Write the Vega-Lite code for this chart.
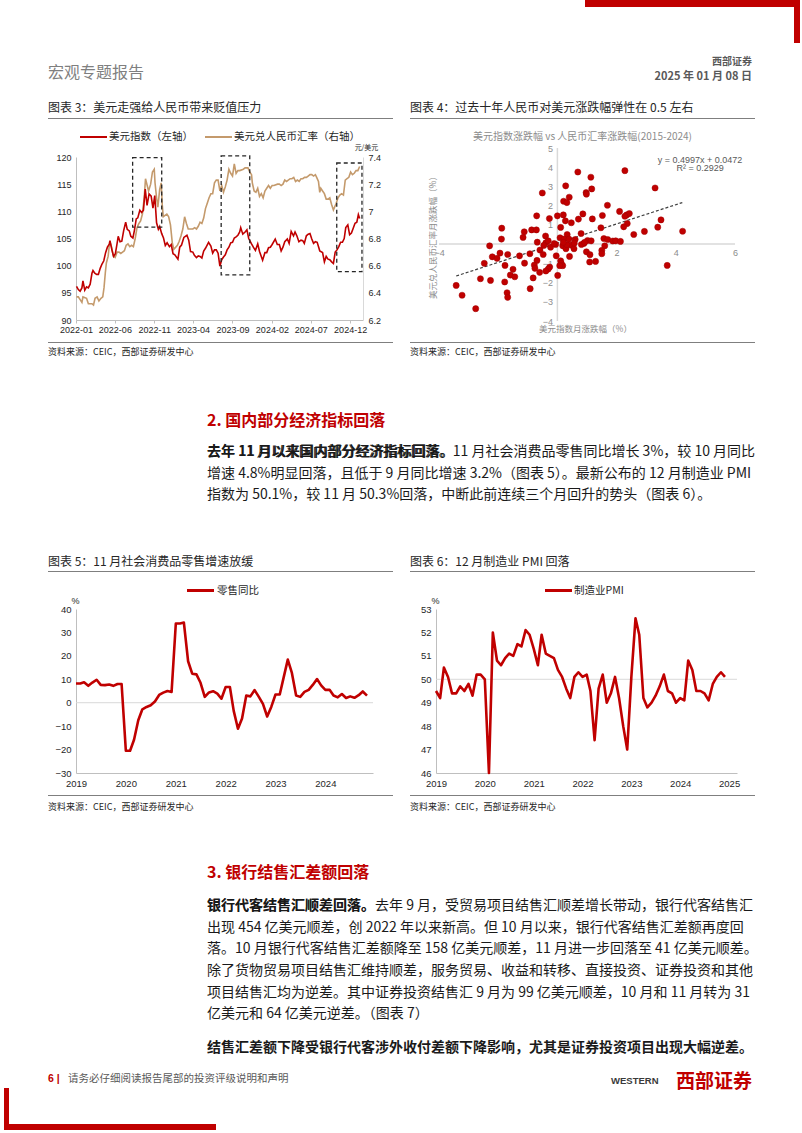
{
"$schema":"https://vega.github.io/schema/vega-lite/v6.json",
"padding":0,
"background":"white",
"autosize":{"type":"pad"},
"config":{"view":{"stroke":null},"font":"Noto Sans CJK SC","concat":{"spacing":0},"axis":{"labelOverlap":false}},
"bounds":"flush",
"spacing":0,
"vconcat":[
{"width":802,"height":7,"data":{"values":[{}]},"mark":{"type":"rect","color":"#c00000"},"encoding":{"x":{"datum":0,"scale":{"domain":[0,1],"range":[585,800]},"axis":null},"x2":{"datum":1}}},
{"width":802,"height":36,"data":{"values":[{}]},"mark":{"type":"rect","color":"#c00000"},"encoding":{"x":{"datum":0,"scale":{"domain":[0,1],"range":[794,800]},"axis":null},"x2":{"datum":1}}},
{"width":802,"height":12,"data":{"values":[]},"mark":"point"},
{"width":802,"height":13,"data":{"values":[{"t":"西部证券"}]},"mark":{"type":"text","align":"right","baseline":"middle","fontSize":10,"fontWeight":"bold","color":"#595959"},"encoding":{"text":{"field":"t"},"x":{"datum":1,"scale":{"domain":[0,1],"range":[0,752]},"axis":null}}},
{"width":802,"height":18,
 "layer":[
  {"data":{"values":[{"t":"宏观专题报告"}]},"mark":{"type":"text","align":"left","baseline":"middle","fontSize":16,"color":"#7f7f7f","dy":-4},"encoding":{"text":{"field":"t"},"x":{"datum":0,"scale":{"domain":[0,1],"range":[48,400]},"axis":null}}},
  {"data":{"values":[{"t":"2025 年 01 月 08 日"}]},"mark":{"type":"text","align":"right","baseline":"middle","fontSize":11,"fontWeight":"bold","color":"#595959"},"encoding":{"text":{"field":"t"},"x":{"datum":1,"scale":{"domain":[0,1],"range":[400,752]},"axis":null}}}
 ],"resolve":{"scale":{"x":"independent"}}},
{"width":802,"height":11,"data":{"values":[]},"mark":"point"},
{"width":802,"height":22,
 "layer":[
  {"data":{"values":[{"t":"图表 3：美元走强给人民币带来贬值压力"}]},
   "layer":[
    {"mark":{"type":"text","align":"left","baseline":"middle","fontSize":12,"color":"#262626"},"encoding":{"text":{"field":"t"},"x":{"datum":0,"scale":{"domain":[0,1],"range":[48,393]},"axis":null}}},
    {"mark":{"type":"rule","color":"#7f7f7f","strokeWidth":1},"encoding":{"x":{"datum":0},"x2":{"datum":1},"y":{"datum":0,"scale":{"domain":[0,1],"range":[21.5,0]},"axis":null}}}
   ]},
  {"data":{"values":[{"t":"图表 4：过去十年人民币对美元涨跌幅弹性在 0.5 左右"}]},
   "layer":[
    {"mark":{"type":"text","align":"left","baseline":"middle","fontSize":12,"color":"#262626"},"encoding":{"text":{"field":"t"},"x":{"datum":0,"scale":{"domain":[0,1],"range":[410,755]},"axis":null}}},
    {"mark":{"type":"rule","color":"#7f7f7f","strokeWidth":1},"encoding":{"x":{"datum":0},"x2":{"datum":1},"y":{"datum":0,"scale":{"domain":[0,1],"range":[21.5,0]},"axis":null}}}
   ]}
 ],"resolve":{"scale":{"x":"independent","y":"independent"}}},
{"width":802,"height":9,"data":{"values":[]},"mark":"point"},
{"width":802,"height":18,
 "layer":[
  {"data":{"values":[{"t":"美元指数（左轴）"}]},
   "layer":[
    {"mark":{"type":"rule","color":"#c00000","strokeWidth":2},"encoding":{"x":{"datum":0,"scale":{"domain":[0,1],"range":[80,107]},"axis":null},"x2":{"datum":1}}},
    {"mark":{"type":"text","align":"left","baseline":"middle","fontSize":10.5,"color":"#262626","dx":2},"encoding":{"text":{"field":"t"},"x":{"datum":1}}}
   ]},
  {"data":{"values":[{"t":"美元兑人民币汇率（右轴）"}]},
   "layer":[
    {"mark":{"type":"rule","color":"#c49a6c","strokeWidth":2},"encoding":{"x":{"datum":0,"scale":{"domain":[0,1],"range":[205,232]},"axis":null},"x2":{"datum":1}}},
    {"mark":{"type":"text","align":"left","baseline":"middle","fontSize":10.5,"color":"#262626","dx":2},"encoding":{"text":{"field":"t"},"x":{"datum":1}}}
   ]},
  {"data":{"values":[{"t":"美元指数涨跌幅 vs 人民币汇率涨跌幅(2015-2024)"}]},"mark":{"type":"text","align":"center","baseline":"middle","fontSize":10,"color":"#8c8c8c"},"encoding":{"text":{"field":"t"},"x":{"datum":0.5,"scale":{"domain":[0,1],"range":[439,726]},"axis":null}}}
 ],"resolve":{"scale":{"x":"independent"}}},
{"width":802,"height":196,
 "layer":[
  {"layer":[
    {"data":{"values":[
{"d":"2022-01-03","v":6.37},{"d":"2022-01-10","v":6.37},{"d":"2022-01-17","v":6.35},{"d":"2022-01-24","v":6.33},{"d":"2022-01-28","v":6.37},{"d":"2022-02-11","v":6.36},{"d":"2022-02-18","v":6.32},{"d":"2022-02-25","v":6.32},{"d":"2022-03-04","v":6.32},{"d":"2022-03-10","v":6.31},{"d":"2022-03-16","v":6.36},{"d":"2022-03-24","v":6.37},{"d":"2022-03-31","v":6.34},{"d":"2022-04-08","v":6.36},{"d":"2022-04-15","v":6.37},{"d":"2022-04-20","v":6.44},{"d":"2022-04-25","v":6.55},{"d":"2022-04-29","v":6.62},{"d":"2022-05-06","v":6.67},{"d":"2022-05-12","v":6.78},{"d":"2022-05-19","v":6.74},{"d":"2022-05-26","v":6.67},{"d":"2022-06-02","v":6.66},{"d":"2022-06-10","v":6.70},{"d":"2022-06-17","v":6.70},{"d":"2022-06-24","v":6.69},{"d":"2022-07-01","v":6.70},{"d":"2022-07-08","v":6.71},{"d":"2022-07-15","v":6.75},{"d":"2022-07-22","v":6.76},{"d":"2022-07-29","v":6.74},{"d":"2022-08-05","v":6.75},{"d":"2022-08-12","v":6.74},{"d":"2022-08-19","v":6.80},{"d":"2022-08-26","v":6.88},{"d":"2022-09-02","v":6.91},{"d":"2022-09-09","v":6.93},{"d":"2022-09-16","v":6.98},{"d":"2022-09-23","v":7.10},{"d":"2022-09-28","v":7.24},{"d":"2022-10-10","v":7.15},{"d":"2022-10-18","v":7.20},{"d":"2022-10-25","v":7.29},{"d":"2022-11-01","v":7.31},{"d":"2022-11-04","v":7.21},{"d":"2022-11-10","v":7.10},{"d":"2022-11-15","v":7.03},{"d":"2022-11-22","v":7.16},{"d":"2022-11-28","v":7.21},{"d":"2022-12-02","v":7.05},{"d":"2022-12-06","v":6.96},{"d":"2022-12-13","v":6.97},{"d":"2022-12-20","v":6.98},{"d":"2022-12-27","v":6.96},{"d":"2023-01-03","v":6.90},{"d":"2023-01-10","v":6.77},{"d":"2023-01-16","v":6.72},{"d":"2023-01-30","v":6.75},{"d":"2023-02-06","v":6.78},{"d":"2023-02-13","v":6.82},{"d":"2023-02-20","v":6.87},{"d":"2023-02-27","v":6.96},{"d":"2023-03-06","v":6.91},{"d":"2023-03-13","v":6.87},{"d":"2023-03-20","v":6.87},{"d":"2023-03-31","v":6.87},{"d":"2023-04-07","v":6.88},{"d":"2023-04-14","v":6.87},{"d":"2023-04-21","v":6.89},{"d":"2023-04-28","v":6.92},{"d":"2023-05-05","v":6.91},{"d":"2023-05-12","v":6.95},{"d":"2023-05-19","v":7.02},{"d":"2023-05-26","v":7.06},{"d":"2023-06-02","v":7.10},{"d":"2023-06-09","v":7.13},{"d":"2023-06-16","v":7.13},{"d":"2023-06-23","v":7.21},{"d":"2023-06-30","v":7.23},{"d":"2023-07-07","v":7.23},{"d":"2023-07-14","v":7.15},{"d":"2023-07-21","v":7.19},{"d":"2023-07-28","v":7.14},{"d":"2023-08-04","v":7.18},{"d":"2023-08-11","v":7.23},{"d":"2023-08-18","v":7.31},{"d":"2023-08-25","v":7.28},{"d":"2023-09-01","v":7.26},{"d":"2023-09-08","v":7.35},{"d":"2023-09-15","v":7.28},{"d":"2023-09-22","v":7.30},{"d":"2023-09-29","v":7.30},{"d":"2023-10-13","v":7.31},{"d":"2023-10-20","v":7.32},{"d":"2023-10-31","v":7.32},{"d":"2023-11-07","v":7.29},{"d":"2023-11-14","v":7.27},{"d":"2023-11-17","v":7.21},{"d":"2023-11-24","v":7.15},{"d":"2023-12-01","v":7.14},{"d":"2023-12-08","v":7.17},{"d":"2023-12-15","v":7.11},{"d":"2023-12-22","v":7.13},{"d":"2023-12-29","v":7.10},{"d":"2024-01-05","v":7.15},{"d":"2024-01-12","v":7.17},{"d":"2024-01-19","v":7.19},{"d":"2024-01-26","v":7.17},{"d":"2024-02-02","v":7.19},{"d":"2024-02-09","v":7.19},{"d":"2024-02-23","v":7.20},{"d":"2024-03-01","v":7.20},{"d":"2024-03-08","v":7.19},{"d":"2024-03-15","v":7.20},{"d":"2024-03-22","v":7.23},{"d":"2024-03-29","v":7.22},{"d":"2024-04-12","v":7.24},{"d":"2024-04-19","v":7.24},{"d":"2024-04-26","v":7.25},{"d":"2024-05-03","v":7.22},{"d":"2024-05-10","v":7.23},{"d":"2024-05-17","v":7.22},{"d":"2024-05-24","v":7.24},{"d":"2024-05-31","v":7.24},{"d":"2024-06-07","v":7.25},{"d":"2024-06-14","v":7.25},{"d":"2024-06-21","v":7.26},{"d":"2024-06-28","v":7.27},{"d":"2024-07-05","v":7.27},{"d":"2024-07-12","v":7.26},{"d":"2024-07-19","v":7.27},{"d":"2024-07-24","v":7.25},{"d":"2024-07-31","v":7.22},{"d":"2024-08-05","v":7.14},{"d":"2024-08-09","v":7.17},{"d":"2024-08-16","v":7.15},{"d":"2024-08-23","v":7.13},{"d":"2024-08-30","v":7.09},{"d":"2024-09-06","v":7.09},{"d":"2024-09-13","v":7.10},{"d":"2024-09-20","v":7.05},{"d":"2024-09-27","v":7.01},{"d":"2024-10-08","v":7.06},{"d":"2024-10-15","v":7.10},{"d":"2024-10-22","v":7.12},{"d":"2024-10-29","v":7.13},{"d":"2024-11-05","v":7.12},{"d":"2024-11-12","v":7.23},{"d":"2024-11-19","v":7.24},{"d":"2024-11-26","v":7.25},{"d":"2024-12-03","v":7.29},{"d":"2024-12-10","v":7.27},{"d":"2024-12-17","v":7.28},{"d":"2024-12-24","v":7.30},{"d":"2024-12-31","v":7.30},{"d":"2025-01-07","v":7.33}
    ]},
     "mark":{"type":"line","strokeWidth":1.6,"color":"#c49a6c"},
     "encoding":{
      "x":{"field":"d","type":"temporal","scale":{"type":"utc","nice":false,"domain":[{"year":2022,"month":1,"date":1,"utc":true},{"year":2025,"month":1,"date":20,"utc":true}],"range":[76,363]},
           "axis":{"orient":"bottom","offset":-22,"values":[{"year":2022,"month":1,"date":1,"utc":true},{"year":2022,"month":6,"date":1,"utc":true},{"year":2022,"month":11,"date":1,"utc":true},{"year":2023,"month":4,"date":1,"utc":true},{"year":2023,"month":9,"date":1,"utc":true},{"year":2024,"month":2,"date":1,"utc":true},{"year":2024,"month":7,"date":1,"utc":true},{"year":2024,"month":12,"date":1,"utc":true}],
                   "format":"%Y-%m","title":null,"grid":false,"labelFont":"Liberation Sans","labelFontSize":9,"labelColor":"#262626","domainColor":"#bfbfbf","tickColor":"#bfbfbf","tickSize":3,"labelPadding":2,"labelFlush":false,"labelOverlap":false}},
      "y":{"field":"v","type":"quantitative","scale":{"domain":[6.2,7.4],"range":[174,11],"nice":false,"zero":false},
           "axis":{"orient":"right","offset":-439,"values":[6.2,6.4,6.6,6.8,7,7.2,7.4],"format":"~g","grid":false,"ticks":false,"domainColor":"#d9d9d9","labelFont":"Liberation Sans","labelFontSize":9,"labelColor":"#262626","labelPadding":5,"labelOverlap":false,
                   "title":"元/美元","titleAngle":0,"titleX":3,"titleY":1,"titleAlign":"center","titleBaseline":"middle","titleFontSize":7,"titleFontWeight":"normal","titleColor":"#262626"}}
     }},
    {"layer":[
      {"data":{"values":[
{"d":"2022-01-03","v":96.2},{"d":"2022-01-10","v":95.6},{"d":"2022-01-17","v":95.3},{"d":"2022-01-24","v":95.9},{"d":"2022-01-28","v":97.2},{"d":"2022-02-04","v":95.5},{"d":"2022-02-11","v":96.1},{"d":"2022-02-18","v":95.9},{"d":"2022-02-25","v":96.6},{"d":"2022-03-04","v":98.6},{"d":"2022-03-08","v":99.1},{"d":"2022-03-15","v":98.6},{"d":"2022-03-22","v":98.4},{"d":"2022-03-29","v":98.4},{"d":"2022-04-05","v":99.5},{"d":"2022-04-12","v":100.3},{"d":"2022-04-19","v":100.9},{"d":"2022-04-26","v":102.4},{"d":"2022-05-03","v":103.4},{"d":"2022-05-11","v":104.0},{"d":"2022-05-13","v":104.6},{"d":"2022-05-20","v":103.0},{"d":"2022-05-27","v":101.7},{"d":"2022-06-03","v":102.2},{"d":"2022-06-10","v":104.2},{"d":"2022-06-14","v":105.4},{"d":"2022-06-21","v":104.4},{"d":"2022-06-28","v":104.5},{"d":"2022-07-05","v":106.4},{"d":"2022-07-13","v":108.0},{"d":"2022-07-19","v":106.7},{"d":"2022-07-27","v":106.4},{"d":"2022-08-02","v":105.4},{"d":"2022-08-10","v":105.1},{"d":"2022-08-16","v":106.5},{"d":"2022-08-23","v":108.6},{"d":"2022-08-29","v":108.8},{"d":"2022-09-06","v":110.2},{"d":"2022-09-13","v":109.8},{"d":"2022-09-20","v":110.2},{"d":"2022-09-27","v":114.1},{"d":"2022-10-04","v":111.1},{"d":"2022-10-12","v":113.2},{"d":"2022-10-20","v":112.8},{"d":"2022-10-27","v":110.6},{"d":"2022-11-03","v":112.9},{"d":"2022-11-10","v":107.9},{"d":"2022-11-17","v":106.7},{"d":"2022-11-22","v":107.2},{"d":"2022-11-30","v":105.9},{"d":"2022-12-07","v":105.1},{"d":"2022-12-14","v":103.7},{"d":"2022-12-21","v":104.2},{"d":"2022-12-30","v":103.5},{"d":"2023-01-06","v":103.9},{"d":"2023-01-13","v":102.2},{"d":"2023-01-20","v":102.0},{"d":"2023-02-01","v":101.2},{"d":"2023-02-08","v":103.4},{"d":"2023-02-15","v":103.8},{"d":"2023-02-24","v":105.2},{"d":"2023-03-08","v":105.6},{"d":"2023-03-15","v":104.7},{"d":"2023-03-22","v":102.6},{"d":"2023-03-31","v":102.5},{"d":"2023-04-06","v":101.9},{"d":"2023-04-14","v":101.5},{"d":"2023-04-21","v":101.8},{"d":"2023-04-28","v":101.7},{"d":"2023-05-05","v":101.4},{"d":"2023-05-12","v":102.7},{"d":"2023-05-19","v":103.2},{"d":"2023-05-31","v":104.3},{"d":"2023-06-09","v":103.6},{"d":"2023-06-16","v":102.3},{"d":"2023-06-23","v":102.9},{"d":"2023-06-30","v":102.9},{"d":"2023-07-07","v":102.3},{"d":"2023-07-14","v":99.9},{"d":"2023-07-21","v":101.1},{"d":"2023-07-28","v":101.6},{"d":"2023-08-04","v":102.0},{"d":"2023-08-11","v":102.9},{"d":"2023-08-18","v":103.4},{"d":"2023-08-25","v":104.2},{"d":"2023-09-01","v":104.3},{"d":"2023-09-08","v":105.1},{"d":"2023-09-15","v":105.3},{"d":"2023-09-22","v":105.6},{"d":"2023-09-29","v":106.2},{"d":"2023-10-03","v":107.0},{"d":"2023-10-11","v":105.8},{"d":"2023-10-20","v":106.2},{"d":"2023-10-27","v":106.6},{"d":"2023-11-03","v":105.0},{"d":"2023-11-14","v":104.0},{"d":"2023-11-21","v":103.4},{"d":"2023-11-29","v":102.8},{"d":"2023-12-08","v":104.0},{"d":"2023-12-15","v":102.6},{"d":"2023-12-27","v":101.0},{"d":"2024-01-05","v":102.4},{"d":"2024-01-12","v":102.4},{"d":"2024-01-19","v":103.3},{"d":"2024-01-26","v":103.4},{"d":"2024-02-02","v":103.9},{"d":"2024-02-14","v":104.9},{"d":"2024-02-22","v":103.9},{"d":"2024-03-01","v":103.9},{"d":"2024-03-08","v":102.7},{"d":"2024-03-15","v":103.4},{"d":"2024-03-22","v":104.4},{"d":"2024-04-01","v":104.9},{"d":"2024-04-08","v":104.1},{"d":"2024-04-16","v":106.3},{"d":"2024-04-25","v":105.5},{"d":"2024-05-01","v":106.2},{"d":"2024-05-08","v":105.5},{"d":"2024-05-16","v":104.4},{"d":"2024-05-24","v":104.7},{"d":"2024-05-31","v":104.6},{"d":"2024-06-06","v":104.1},{"d":"2024-06-14","v":105.5},{"d":"2024-06-21","v":105.8},{"d":"2024-06-28","v":105.9},{"d":"2024-07-05","v":104.9},{"d":"2024-07-12","v":104.1},{"d":"2024-07-19","v":104.4},{"d":"2024-07-26","v":104.3},{"d":"2024-08-02","v":103.2},{"d":"2024-08-05","v":102.7},{"d":"2024-08-16","v":102.4},{"d":"2024-08-23","v":100.7},{"d":"2024-08-30","v":101.7},{"d":"2024-09-06","v":101.2},{"d":"2024-09-13","v":101.1},{"d":"2024-09-20","v":100.7},{"d":"2024-09-27","v":100.4},{"d":"2024-10-04","v":102.5},{"d":"2024-10-11","v":102.9},{"d":"2024-10-18","v":103.5},{"d":"2024-10-25","v":104.3},{"d":"2024-11-01","v":104.3},{"d":"2024-11-08","v":105.0},{"d":"2024-11-14","v":107.0},{"d":"2024-11-22","v":107.5},{"d":"2024-11-29","v":105.7},{"d":"2024-12-06","v":106.0},{"d":"2024-12-13","v":106.9},{"d":"2024-12-20","v":107.8},{"d":"2024-12-27","v":108.0},{"d":"2025-01-02","v":109.4},{"d":"2025-01-07","v":108.7}
      ]},
       "mark":{"type":"line","strokeWidth":1.6,"color":"#c00000"},
       "encoding":{"x":{"field":"d","type":"temporal","axis":null},
         "y":{"field":"v","type":"quantitative","scale":{"domain":[90,120],"range":[174,11],"nice":false,"zero":false},
              "axis":{"orient":"left","offset":-76,"values":[90,95,100,105,110,115,120],"format":"d","title":null,"grid":false,"ticks":false,"domainColor":"#bfbfbf","labelFont":"Liberation Sans","labelFontSize":9,"labelColor":"#262626","labelPadding":5,"labelOverlap":false}}}},
      {"data":{"values":[{"s":"2022-08-09","e":"2022-11-30","lo":107.1,"hi":119.9},{"s":"2023-07-19","e":"2023-11-07","lo":98.3,"hi":120.2},{"s":"2024-10-10","e":"2025-01-16","lo":98.9,"hi":118.9}]},
       "mark":{"type":"rect","fillOpacity":0,"stroke":"#262626","strokeWidth":1.3,"strokeDash":[4,3]},
       "encoding":{"x":{"field":"s","type":"temporal","axis":null},"x2":{"field":"e"},"y":{"field":"lo","type":"quantitative","axis":null},"y2":{"field":"hi"}}}
    ],
    "resolve":{"axis":{"x":"independent","y":"independent"}}}
   ],
   "resolve":{"scale":{"y":"independent"},"axis":{"x":"independent"}}},
  {"layer":[
    {"data":{"values":[{}]},"mark":{"type":"rule","color":"#d9d9d9","strokeWidth":1.5},"encoding":{"x":{"datum":0,"axis":null},"y":{"datum":-4,"axis":null},"y2":{"datum":5}}},
    {"data":{"values":[{}]},"mark":{"type":"rule","color":"#d9d9d9","strokeWidth":1.5},"encoding":{"x":{"datum":-4,"axis":null},"x2":{"datum":6},"y":{"datum":0,"axis":null}}},
    {"data":{"values":[{"x":-3.42,"y":-1.66},{"x":4.22,"y":2.16}]},"mark":{"type":"line","color":"#404040","strokeWidth":1.2,"strokeDash":[3,2]},"encoding":{"x":{"field":"x","type":"quantitative","axis":null},"y":{"field":"y","type":"quantitative","axis":null}}},
    {"data":{"values":[
{"x":0.69,"y":3.75},{"x":1.13,"y":3.48},{"x":2.28,"y":3.82},{"x":0.28,"y":3.03},{"x":1.16,"y":2.87},{"x":3.3,"y":2.92},{"x":-0.51,"y":2.66},{"x":0.97,"y":2.68},{"x":0.98,"y":2.6},{"x":0.4,"y":2.44},
{"x":0.21,"y":2.23},{"x":0.32,"y":2.16},{"x":1.69,"y":2.02},{"x":2.1,"y":1.7},{"x":0.86,"y":1.57},{"x":0.2,"y":1.52},{"x":0,"y":1.47},{"x":1.52,"y":1.49},{"x":-0.7,"y":1.47},{"x":-0.27,"y":1.33},
{"x":0.71,"y":1.3},{"x":1.18,"y":1.31},{"x":2.34,"y":1.52},{"x":2.43,"y":1.59},{"x":2.28,"y":1.45},{"x":0.27,"y":1.21},{"x":0.47,"y":1.11},{"x":3.5,"y":1.26},{"x":2.36,"y":1.07},{"x":2.24,"y":0.9},
{"x":1.47,"y":0.85},{"x":3.39,"y":0.88},{"x":4.23,"y":0.67},{"x":2.94,"y":0.66},{"x":2.58,"y":0.5},{"x":-1.88,"y":0.83},{"x":-1.12,"y":0.64},{"x":-0.87,"y":0.74},{"x":-0.71,"y":0.74},{"x":0.11,"y":0.87},
{"x":0.8,"y":0.55},{"x":0.33,"y":0.5},{"x":-0.4,"y":0.42},{"x":-1.16,"y":0.35},{"x":-1.89,"y":0.26},{"x":-0.68,"y":0.1},{"x":0.09,"y":0.33},{"x":0.22,"y":0.26},{"x":0.6,"y":0.24},{"x":1.02,"y":0.19},
{"x":1.14,"y":0.17},{"x":0.89,"y":0.03},{"x":1.57,"y":0.29},{"x":1.7,"y":0.24},{"x":1.87,"y":0.16},{"x":1.97,"y":0.17},{"x":2.13,"y":0.14},{"x":1.6,"y":-0.09},{"x":-2.29,"y":-0.09},{"x":-0.39,"y":0.07},
{"x":-0.46,"y":-0.07},{"x":-0.23,"y":-0.16},{"x":-0.06,"y":-0.02},{"x":0.18,"y":-0.09},{"x":0.46,"y":-0.05},{"x":0.29,"y":-0.24},{"x":0.56,"y":-0.24},{"x":-0.59,"y":-0.31},{"x":-1.94,"y":-0.47},{"x":-1.68,"y":-0.54},
{"x":-0.93,"y":-0.5},{"x":0.98,"y":-0.4},{"x":1.1,"y":-0.55},{"x":1.5,"y":-0.33},{"x":1.5,"y":-0.5},{"x":-2.2,"y":-0.66},{"x":-2.04,"y":-0.74},{"x":-1.28,"y":-0.61},{"x":-0.48,"y":-0.54},{"x":-0.04,"y":-0.61},
{"x":0.41,"y":-0.64},{"x":-0.69,"y":-0.85},{"x":-1.11,"y":-0.99},{"x":-2.47,"y":-1.0},{"x":-1.77,"y":-1.11},{"x":-0.78,"y":-1.09},{"x":0.11,"y":-0.87},{"x":0.13,"y":-1.0},{"x":0.18,"y":-1.12},{"x":1.09,"y":-0.93},
{"x":1.29,"y":-0.9},{"x":-0.26,"y":-1.19},{"x":-0.31,"y":-1.3},{"x":-0.39,"y":-1.4},{"x":-1.5,"y":-1.31},{"x":-0.6,"y":-1.47},{"x":-0.76,"y":-1.26},{"x":0.08,"y":-1.12},{"x":-1.59,"y":-1.61},{"x":-1.44,"y":-1.7},
{"x":0.01,"y":-1.63},{"x":-2.6,"y":-1.8},{"x":-2.26,"y":-1.89},{"x":-1.78,"y":-1.97},{"x":-0.82,"y":-1.76},{"x":-3.42,"y":-2.15},{"x":-0.92,"y":-2.32},{"x":-1.7,"y":-2.53},{"x":-1.68,"y":-2.77},{"x":-3.22,"y":-2.66},
{"x":-2.76,"y":-3.36},{"x":3.71,"y":-1.11},{"x":0.32,"y":-0.03},{"x":0.81,"y":-0.02},{"x":0.2,"y":0.09},{"x":-0.31,"y":0.17},{"x":-0.11,"y":0.03},{"x":0.39,"y":0.26},{"x":0.92,"y":0.09},{"x":0.57,"y":0.05}
    ]},
     "mark":{"type":"circle","size":38,"color":"#c00000","opacity":1,"stroke":"#a00000","strokeWidth":0.5},
     "encoding":{
      "x":{"field":"x","type":"quantitative","scale":{"domain":[-4,6],"range":[439,735],"nice":false,"zero":false},
           "axis":{"orient":"bottom","offset":-98,"values":[-4,2,4,6],"format":"d","domain":false,"ticks":false,"grid":false,"labelFont":"Liberation Sans","labelFontSize":9,"labelColor":"#8c8c8c","labelPadding":4,"labelFlush":false,"labelOverlap":false,
                   "title":"美元指数月涨跌幅（%）","titleFontSize":8.5,"titleFontWeight":"normal","titleColor":"#8c8c8c","titleX":585,"titleY":84,"titleAlign":"center","titleBaseline":"middle"}},
      "y":{"field":"y","type":"quantitative","scale":{"domain":[-4,5],"range":[175,2],"nice":false,"zero":false},
           "axis":{"orient":"left","offset":-557.4,"values":[-4,-3,-2,-1,1,2,3,4,5],"format":"d","domain":false,"ticks":false,"grid":false,"labelFont":"Liberation Sans","labelFontSize":9,"labelColor":"#8c8c8c","labelPadding":5,"labelFlush":false,"labelOverlap":false,
                   "title":"美元兑人民币汇率月涨跌幅（%）","titleFontSize":8.5,"titleFontWeight":"normal","titleColor":"#8c8c8c","titleAngle":-90,"titleX":-125.4,"titleY":89,"titleAlign":"center","titleBaseline":"middle"}}
     }},
    {"data":{"values":[{"t":"y = 0.4997x + 0.0472"}]},"mark":{"type":"text","fontSize":9,"color":"#595959","font":"Liberation Sans","align":"center","baseline":"middle"},"encoding":{"text":{"field":"t"},"x":{"datum":4.82,"axis":null},"y":{"datum":4.37,"axis":null}}},
    {"data":{"values":[{"t":"R² = 0.2929"}]},"mark":{"type":"text","fontSize":9,"color":"#595959","font":"Liberation Sans","align":"center","baseline":"middle"},"encoding":{"text":{"field":"t"},"x":{"datum":4.82,"axis":null},"y":{"datum":3.95,"axis":null}}}
  ],
  "resolve":{"axis":{"x":"independent","y":"independent"}}}
 ],
 "resolve":{"scale":{"x":"independent","y":"independent"}}},
{"width":802,"height":20,
 "layer":[
  {"data":{"values":[{"t":"资料来源：CEIC，西部证券研发中心"}]},
   "layer":[
    {"mark":{"type":"text","align":"left","baseline":"middle","fontSize":9,"color":"#262626"},"encoding":{"text":{"field":"t"},"x":{"datum":0,"scale":{"domain":[0,1],"range":[48,393]},"axis":null}}},
    {"mark":{"type":"rule","color":"#7f7f7f","strokeWidth":1},"encoding":{"x":{"datum":0},"x2":{"datum":1},"y":{"datum":0,"scale":{"domain":[0,1],"range":[0.5,20]},"axis":null}}}
   ]},
  {"data":{"values":[{"t":"资料来源：CEIC，西部证券研发中心"}]},
   "layer":[
    {"mark":{"type":"text","align":"left","baseline":"middle","fontSize":9,"color":"#262626"},"encoding":{"text":{"field":"t"},"x":{"datum":0,"scale":{"domain":[0,1],"range":[410,755]},"axis":null}}},
    {"mark":{"type":"rule","color":"#7f7f7f","strokeWidth":1},"encoding":{"x":{"datum":0},"x2":{"datum":1},"y":{"datum":0,"scale":{"domain":[0,1],"range":[0.5,20]},"axis":null}}}
   ]}
 ],"resolve":{"scale":{"x":"independent","y":"independent"}}},
{"width":802,"height":48,"data":{"values":[]},"mark":"point"},
{"width":802,"height":22,"data":{"values":[{"t":"2. 国内部分经济指标回落"}]},"mark":{"type":"text","align":"left","baseline":"middle","fontSize":16,"fontWeight":"bold","color":"#c00000"},"encoding":{"text":{"field":"t"},"x":{"datum":0,"scale":{"domain":[0,1],"range":[207,754]},"axis":null}}},
{"width":802,"height":9,"data":{"values":[]},"mark":"point"},
{"width":802,"height":65,
 "data":{"values":[
  {"i":0,"t":"去年 11 月以来国内部分经济指标回落。11 月社会消费品零售同比增长 3%，较 10 月同比","b":"去年 11 月以来国内部分经济指标回落。"},
  {"i":1,"t":"增速 4.8%明显回落，且低于 9 月同比增速 3.2%（图表 5）。最新公布的 12 月制造业 PMI","b":""},
  {"i":2,"t":"指数为 50.1%，较 11 月 50.3%回落，中断此前连续三个月回升的势头（图表 6）。","b":""}
 ]},
 "encoding":{"y":{"field":"i","type":"ordinal","scale":{"type":"point","padding":0.5},"axis":null},"x":{"datum":0,"scale":{"domain":[0,1],"range":[207,754]},"axis":null}},
 "layer":[
  {"mark":{"type":"text","align":"left","baseline":"middle","fontSize":14,"color":"#1a1a1a"},"encoding":{"text":{"field":"t"}}},
  {"mark":{"type":"text","align":"left","baseline":"middle","fontSize":14,"fontWeight":"bold","color":"#1a1a1a"},"encoding":{"text":{"field":"b"}}}
 ]},
{"width":802,"height":45,"data":{"values":[]},"mark":"point"},
{"width":802,"height":21,
 "layer":[
  {"data":{"values":[{"t":"图表 5：11 月社会消费品零售增速放缓"}]},
   "layer":[
    {"mark":{"type":"text","align":"left","baseline":"middle","fontSize":12,"color":"#262626"},"encoding":{"text":{"field":"t"},"x":{"datum":0,"scale":{"domain":[0,1],"range":[48,393]},"axis":null}}},
    {"mark":{"type":"rule","color":"#7f7f7f","strokeWidth":1},"encoding":{"x":{"datum":0},"x2":{"datum":1},"y":{"datum":0,"scale":{"domain":[0,1],"range":[20.5,0]},"axis":null}}}
   ]},
  {"data":{"values":[{"t":"图表 6：12 月制造业 PMI 回落"}]},
   "layer":[
    {"mark":{"type":"text","align":"left","baseline":"middle","fontSize":12,"color":"#262626"},"encoding":{"text":{"field":"t"},"x":{"datum":0,"scale":{"domain":[0,1],"range":[410,755]},"axis":null}}},
    {"mark":{"type":"rule","color":"#7f7f7f","strokeWidth":1},"encoding":{"x":{"datum":0},"x2":{"datum":1},"y":{"datum":0,"scale":{"domain":[0,1],"range":[20.5,0]},"axis":null}}}
   ]}
 ],"resolve":{"scale":{"x":"independent","y":"independent"}}},
{"width":802,"height":10,"data":{"values":[]},"mark":"point"},
{"width":802,"height":17,
 "layer":[
  {"data":{"values":[{"t":"零售同比"}]},
   "layer":[
    {"mark":{"type":"rule","color":"#c00000","strokeWidth":3},"encoding":{"x":{"datum":0,"scale":{"domain":[0,1],"range":[187,214]},"axis":null},"x2":{"datum":1}}},
    {"mark":{"type":"text","align":"left","baseline":"middle","fontSize":10.5,"color":"#262626","dx":3},"encoding":{"text":{"field":"t"},"x":{"datum":1}}}
   ]},
  {"data":{"values":[{"t":"制造业PMI"}]},
   "layer":[
    {"mark":{"type":"rule","color":"#c00000","strokeWidth":3},"encoding":{"x":{"datum":0,"scale":{"domain":[0,1],"range":[545,572]},"axis":null},"x2":{"datum":1}}},
    {"mark":{"type":"text","align":"left","baseline":"middle","fontSize":10.5,"color":"#262626","dx":2},"encoding":{"text":{"field":"t"},"x":{"datum":1}}}
   ]}
 ],"resolve":{"scale":{"x":"independent"}}},
{"width":802,"height":196,
 "layer":[
  {"layer":[
    {"data":{"values":[{}]},"mark":{"type":"rule","color":"#d9d9d9","strokeWidth":1},"encoding":{"x":{"datum":{"year":2019,"month":1,"date":1,"utc":true},"type":"temporal","axis":null},"x2":{"datum":{"year":2024,"month":12,"date":15,"utc":true}},"y":{"datum":0,"axis":null}}},
    {"data":{"values":[
{"d":"2019-01-01","v":8.2},{"d":"2019-02-01","v":8.2},{"d":"2019-03-01","v":8.7},{"d":"2019-04-01","v":7.2},{"d":"2019-05-01","v":8.6},{"d":"2019-06-01","v":9.8},{"d":"2019-07-01","v":7.6},{"d":"2019-08-01","v":7.5},{"d":"2019-09-01","v":7.8},{"d":"2019-10-01","v":7.2},{"d":"2019-11-01","v":8.0},{"d":"2019-12-01","v":8.0},
{"d":"2020-01-01","v":-20.5},{"d":"2020-02-01","v":-20.5},{"d":"2020-03-01","v":-15.8},{"d":"2020-04-01","v":-7.5},{"d":"2020-05-01","v":-2.8},{"d":"2020-06-01","v":-1.8},{"d":"2020-07-01","v":-1.1},{"d":"2020-08-01","v":0.5},{"d":"2020-09-01","v":3.3},{"d":"2020-10-01","v":4.3},{"d":"2020-11-01","v":5.0},{"d":"2020-12-01","v":4.6},
{"d":"2021-01-01","v":33.8},{"d":"2021-02-01","v":33.8},{"d":"2021-03-01","v":34.2},{"d":"2021-04-01","v":17.7},{"d":"2021-05-01","v":12.4},{"d":"2021-06-01","v":12.1},{"d":"2021-07-01","v":8.5},{"d":"2021-08-01","v":2.5},{"d":"2021-09-01","v":4.4},{"d":"2021-10-01","v":4.9},{"d":"2021-11-01","v":3.9},{"d":"2021-12-01","v":1.7},
{"d":"2022-01-01","v":6.7},{"d":"2022-02-01","v":6.7},{"d":"2022-03-01","v":-3.5},{"d":"2022-04-01","v":-11.1},{"d":"2022-05-01","v":-6.7},{"d":"2022-06-01","v":3.1},{"d":"2022-07-01","v":2.7},{"d":"2022-08-01","v":5.4},{"d":"2022-09-01","v":2.5},{"d":"2022-10-01","v":-0.5},{"d":"2022-11-01","v":-5.9},{"d":"2022-12-01","v":-1.8},
{"d":"2023-01-01","v":3.5},{"d":"2023-02-01","v":3.5},{"d":"2023-03-01","v":10.6},{"d":"2023-04-01","v":18.4},{"d":"2023-05-01","v":12.7},{"d":"2023-06-01","v":3.1},{"d":"2023-07-01","v":2.5},{"d":"2023-08-01","v":4.6},{"d":"2023-09-01","v":5.5},{"d":"2023-10-01","v":7.6},{"d":"2023-11-01","v":10.1},{"d":"2023-12-01","v":7.4},
{"d":"2024-01-01","v":5.5},{"d":"2024-02-01","v":5.5},{"d":"2024-03-01","v":3.1},{"d":"2024-04-01","v":2.3},{"d":"2024-05-01","v":3.7},{"d":"2024-06-01","v":2.0},{"d":"2024-07-01","v":2.7},{"d":"2024-08-01","v":2.1},{"d":"2024-09-01","v":3.2},{"d":"2024-10-01","v":4.8},{"d":"2024-11-01","v":3.0}
    ]},
     "mark":{"type":"line","strokeWidth":2.6,"strokeJoin":"round","color":"#c00000"},
     "encoding":{
      "x":{"field":"d","type":"temporal","scale":{"type":"utc","nice":false,"domain":[{"year":2019,"month":1,"date":1,"utc":true},{"year":2024,"month":12,"date":15,"utc":true}],"range":[76,373]},
           "axis":{"orient":"bottom","offset":-22,"values":[{"year":2019,"month":1,"date":1,"utc":true},{"year":2020,"month":1,"date":1,"utc":true},{"year":2021,"month":1,"date":1,"utc":true},{"year":2022,"month":1,"date":1,"utc":true},{"year":2023,"month":1,"date":1,"utc":true},{"year":2024,"month":1,"date":1,"utc":true}],
                   "format":"%Y","title":null,"grid":false,"ticks":false,"domainColor":"#bfbfbf","labelFont":"Liberation Sans","labelFontSize":9.5,"labelColor":"#262626","labelPadding":5,"labelFlush":false,"labelOverlap":false}},
      "y":{"field":"v","type":"quantitative","scale":{"domain":[-30,40],"range":[174,10],"nice":false,"zero":false},
           "axis":{"orient":"left","offset":-76,"values":[-30,-20,-10,0,10,20,30,40],"format":"d","grid":false,"ticks":false,"domainColor":"#bfbfbf","labelFont":"Liberation Sans","labelFontSize":9.5,"labelColor":"#262626","labelPadding":5,"labelOverlap":false,
                   "title":"%","titleAngle":0,"titleX":-1,"titleY":1,"titleAlign":"center","titleBaseline":"middle","titleFontSize":9,"titleFontWeight":"normal","titleColor":"#262626","titleFont":"Liberation Sans"}}
     }}
  ],
  "resolve":{"axis":{"x":"independent","y":"independent"}}},
  {"layer":[
    {"data":{"values":[{}]},"mark":{"type":"rule","color":"#d9d9d9","strokeWidth":1},"encoding":{"x":{"datum":{"year":2019,"month":1,"date":1,"utc":true},"type":"temporal","axis":null},"x2":{"datum":{"year":2025,"month":3,"date":1,"utc":true}},"y":{"datum":50,"axis":null}}},
    {"data":{"values":[
{"d":"2019-01-01","v":49.5},{"d":"2019-02-01","v":49.2},{"d":"2019-03-01","v":50.5},{"d":"2019-04-01","v":50.1},{"d":"2019-05-01","v":49.4},{"d":"2019-06-01","v":49.4},{"d":"2019-07-01","v":49.7},{"d":"2019-08-01","v":49.5},{"d":"2019-09-01","v":49.8},{"d":"2019-10-01","v":49.3},{"d":"2019-11-01","v":50.2},{"d":"2019-12-01","v":50.2},
{"d":"2020-01-01","v":50.0},{"d":"2020-02-01","v":35.7},{"d":"2020-03-01","v":52.0},{"d":"2020-04-01","v":50.8},{"d":"2020-05-01","v":50.6},{"d":"2020-06-01","v":50.9},{"d":"2020-07-01","v":51.1},{"d":"2020-08-01","v":51.0},{"d":"2020-09-01","v":51.5},{"d":"2020-10-01","v":51.4},{"d":"2020-11-01","v":52.1},{"d":"2020-12-01","v":51.9},
{"d":"2021-01-01","v":51.3},{"d":"2021-02-01","v":50.6},{"d":"2021-03-01","v":51.9},{"d":"2021-04-01","v":51.1},{"d":"2021-05-01","v":51.0},{"d":"2021-06-01","v":50.9},{"d":"2021-07-01","v":50.4},{"d":"2021-08-01","v":50.1},{"d":"2021-09-01","v":49.6},{"d":"2021-10-01","v":49.2},{"d":"2021-11-01","v":50.1},{"d":"2021-12-01","v":50.3},
{"d":"2022-01-01","v":50.1},{"d":"2022-02-01","v":50.2},{"d":"2022-03-01","v":49.5},{"d":"2022-04-01","v":47.4},{"d":"2022-05-01","v":49.6},{"d":"2022-06-01","v":50.2},{"d":"2022-07-01","v":49.0},{"d":"2022-08-01","v":49.4},{"d":"2022-09-01","v":50.1},{"d":"2022-10-01","v":49.2},{"d":"2022-11-01","v":48.0},{"d":"2022-12-01","v":47.0},
{"d":"2023-01-01","v":50.1},{"d":"2023-02-01","v":52.6},{"d":"2023-03-01","v":51.9},{"d":"2023-04-01","v":49.2},{"d":"2023-05-01","v":48.8},{"d":"2023-06-01","v":49.0},{"d":"2023-07-01","v":49.3},{"d":"2023-08-01","v":49.7},{"d":"2023-09-01","v":50.2},{"d":"2023-10-01","v":49.5},{"d":"2023-11-01","v":49.4},{"d":"2023-12-01","v":49.0},
{"d":"2024-01-01","v":49.2},{"d":"2024-02-01","v":49.1},{"d":"2024-03-01","v":50.8},{"d":"2024-04-01","v":50.4},{"d":"2024-05-01","v":49.5},{"d":"2024-06-01","v":49.5},{"d":"2024-07-01","v":49.4},{"d":"2024-08-01","v":49.1},{"d":"2024-09-01","v":49.8},{"d":"2024-10-01","v":50.1},{"d":"2024-11-01","v":50.3},{"d":"2024-12-01","v":50.1}
    ]},
     "mark":{"type":"line","strokeWidth":2.6,"strokeJoin":"round","color":"#c00000"},
     "encoding":{
      "x":{"field":"d","type":"temporal","scale":{"type":"utc","nice":false,"domain":[{"year":2019,"month":1,"date":1,"utc":true},{"year":2025,"month":3,"date":1,"utc":true}],"range":[436,737]},
           "axis":{"orient":"bottom","offset":-22,"values":[{"year":2019,"month":1,"date":1,"utc":true},{"year":2020,"month":1,"date":1,"utc":true},{"year":2021,"month":1,"date":1,"utc":true},{"year":2022,"month":1,"date":1,"utc":true},{"year":2023,"month":1,"date":1,"utc":true},{"year":2024,"month":1,"date":1,"utc":true},{"year":2025,"month":1,"date":1,"utc":true}],
                   "format":"%Y","title":null,"grid":false,"ticks":false,"domainColor":"#bfbfbf","labelFont":"Liberation Sans","labelFontSize":9.5,"labelColor":"#262626","labelPadding":5,"labelFlush":false,"labelOverlap":false}},
      "y":{"field":"v","type":"quantitative","scale":{"domain":[46,53],"range":[174,10],"nice":false,"zero":false,"clamp":true},
           "axis":{"orient":"left","offset":-436,"values":[46,47,48,49,50,51,52,53],"format":"d","grid":false,"ticks":false,"domainColor":"#bfbfbf","labelFont":"Liberation Sans","labelFontSize":9.5,"labelColor":"#262626","labelPadding":5,"labelOverlap":false,
                   "title":"%","titleAngle":0,"titleX":-1,"titleY":1,"titleAlign":"center","titleBaseline":"middle","titleFontSize":9,"titleFontWeight":"normal","titleColor":"#262626","titleFont":"Liberation Sans"}}
     }}
  ],
  "resolve":{"axis":{"x":"independent","y":"independent"}}}
 ],
 "resolve":{"scale":{"x":"independent","y":"independent"}}},
{"width":802,"height":23,
 "layer":[
  {"data":{"values":[{"t":"资料来源：CEIC，西部证券研发中心"}]},
   "layer":[
    {"mark":{"type":"text","align":"left","baseline":"middle","fontSize":9,"color":"#262626"},"encoding":{"text":{"field":"t"},"x":{"datum":0,"scale":{"domain":[0,1],"range":[48,393]},"axis":null}}},
    {"mark":{"type":"rule","color":"#7f7f7f","strokeWidth":1},"encoding":{"x":{"datum":0},"x2":{"datum":1},"y":{"datum":0,"scale":{"domain":[0,1],"range":[0.5,23]},"axis":null}}}
   ]},
  {"data":{"values":[{"t":"资料来源：CEIC，西部证券研发中心"}]},
   "layer":[
    {"mark":{"type":"text","align":"left","baseline":"middle","fontSize":9,"color":"#262626"},"encoding":{"text":{"field":"t"},"x":{"datum":0,"scale":{"domain":[0,1],"range":[410,755]},"axis":null}}},
    {"mark":{"type":"rule","color":"#7f7f7f","strokeWidth":1},"encoding":{"x":{"datum":0},"x2":{"datum":1},"y":{"datum":0,"scale":{"domain":[0,1],"range":[0.5,23]},"axis":null}}}
   ]}
 ],"resolve":{"scale":{"x":"independent","y":"independent"}}},
{"width":802,"height":44,"data":{"values":[]},"mark":"point"},
{"width":802,"height":22,"data":{"values":[{"t":"3. 银行结售汇差额回落"}]},"mark":{"type":"text","align":"left","baseline":"middle","fontSize":16,"fontWeight":"bold","color":"#c00000"},"encoding":{"text":{"field":"t"},"x":{"datum":0,"scale":{"domain":[0,1],"range":[207,754]},"axis":null}}},
{"width":802,"height":11,"data":{"values":[]},"mark":"point"},
{"width":802,"height":130,
 "data":{"values":[
  {"i":0,"t":"银行代客结售汇顺差回落。去年 9 月，受贸易项目结售汇顺差增长带动，银行代客结售汇","b":"银行代客结售汇顺差回落。"},
  {"i":1,"t":"出现 454 亿美元顺差，创 2022 年以来新高。但 10 月以来，银行代客结售汇差额再度回","b":""},
  {"i":2,"t":"落。10 月银行代客结售汇差额降至 158 亿美元顺差，11 月进一步回落至 41 亿美元顺差。","b":""},
  {"i":3,"t":"除了货物贸易项目结售汇维持顺差，服务贸易、收益和转移、直接投资、证券投资和其他","b":""},
  {"i":4,"t":"项目结售汇均为逆差。其中证券投资结售汇 9 月为 99 亿美元顺差，10 月和 11 月转为 31","b":""},
  {"i":5,"t":"亿美元和 64 亿美元逆差。（图表 7）","b":""}
 ]},
 "encoding":{"y":{"field":"i","type":"ordinal","scale":{"type":"point","padding":0.5},"axis":null},"x":{"datum":0,"scale":{"domain":[0,1],"range":[207,754]},"axis":null}},
 "layer":[
  {"mark":{"type":"text","align":"left","baseline":"middle","fontSize":14,"color":"#1a1a1a"},"encoding":{"text":{"field":"t"}}},
  {"mark":{"type":"text","align":"left","baseline":"middle","fontSize":14,"fontWeight":"bold","color":"#1a1a1a"},"encoding":{"text":{"field":"b"}}}
 ]},
{"width":802,"height":12,"data":{"values":[]},"mark":"point"},
{"width":802,"height":22,"data":{"values":[{"t":"结售汇差额下降受银行代客涉外收付差额下降影响，尤其是证券投资项目出现大幅逆差。"}]},"mark":{"type":"text","align":"left","baseline":"middle","fontSize":14,"fontWeight":"bold","color":"#1a1a1a"},"encoding":{"text":{"field":"t"},"x":{"datum":0,"scale":{"domain":[0,1],"range":[207,754]},"axis":null}}},
{"width":802,"height":11,"data":{"values":[]},"mark":"point"},
{"width":802,"height":18,
 "layer":[
  {"data":{"values":[{"t":"6 |"}]},"mark":{"type":"text","align":"left","baseline":"middle","fontSize":10.5,"fontWeight":"bold","color":"#c00000","font":"Liberation Sans"},"encoding":{"text":{"field":"t"},"x":{"datum":0,"scale":{"domain":[0,1],"range":[48,68]},"axis":null}}},
  {"data":{"values":[{"t":"请务必仔细阅读报告尾部的投资评级说明和声明"}]},"mark":{"type":"text","align":"left","baseline":"middle","fontSize":10.5,"color":"#595959"},"encoding":{"text":{"field":"t"},"x":{"datum":0,"scale":{"domain":[0,1],"range":[68,611]},"axis":null}}},
  {"data":{"values":[{"t":"WESTERN"}]},"mark":{"type":"text","align":"left","baseline":"middle","fontSize":9.5,"fontWeight":"bold","color":"#3a3a3a","font":"Liberation Sans","dy":2},"encoding":{"text":{"field":"t"},"x":{"datum":0,"scale":{"domain":[0,1],"range":[611,752]},"axis":null}}},
  {"data":{"values":[{"t":"西部证券"}]},"mark":{"type":"text","align":"right","baseline":"middle","fontSize":19,"fontWeight":"bold","color":"#c00000","dy":3},"encoding":{"text":{"field":"t"},"x":{"datum":1,"scale":{"domain":[0,1],"range":[611,752]},"axis":null}}}
 ],"resolve":{"scale":{"x":"independent"}}},
{"width":802,"height":36,"data":{"values":[{}]},"mark":{"type":"rect","color":"#c00000"},"encoding":{"x":{"datum":0,"scale":{"domain":[0,1],"range":[4,9]},"axis":null},"x2":{"datum":1}}},
{"width":802,"height":6,"data":{"values":[{}]},"mark":{"type":"rect","color":"#c00000"},"encoding":{"x":{"datum":0,"scale":{"domain":[0,1],"range":[4,216]},"axis":null},"x2":{"datum":1}}},
{"width":802,"height":3,"data":{"values":[]},"mark":"point"}
]
}
